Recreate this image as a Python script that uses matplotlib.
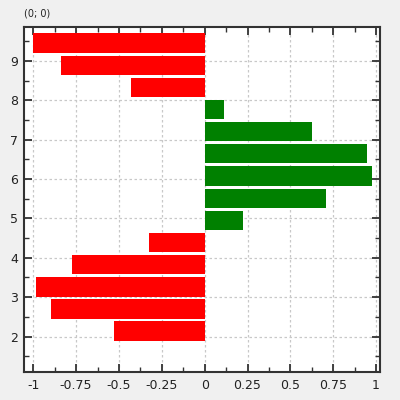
import matplotlib
matplotlib.use("Agg")
import matplotlib.pyplot as plt
from matplotlib.ticker import MultipleLocator, FuncFormatter

positions = [2.14, 2.70, 3.26, 3.83, 4.39, 4.95, 5.51, 6.08, 6.64, 7.20, 7.76, 8.33, 8.89, 9.45]
values = [-0.527, -0.894, -0.985, -0.776, -0.325, 0.226, 0.71, 0.976, 0.945, 0.626, 0.115, -0.427, -0.84, -1.0]
x_ticks = [-1, -0.75, -0.5, -0.25, 0, 0.25, 0.5, 0.75, 1]
y_ticks = [2, 3, 4, 5, 6, 7, 8, 9]
title = "(0; 0)"

fig = plt.figure(figsize=(4, 4), dpi=100, facecolor="#f0f0f0")
ax = fig.add_axes([0.06, 0.07, 0.89, 0.8625])
ax.set_facecolor("white")

colors = ["green" if v >= 0 else "red" for v in values]
ax.barh(positions, values, height=0.49, color=colors, edgecolor="none", zorder=3)

ax.set_xlim(-1.054, 1.023)
ax.set_ylim(1.10, 9.86)
ax.set_xticks(x_ticks)
ax.set_yticks(y_ticks)
ax.xaxis.set_major_formatter(FuncFormatter(lambda v, p: "%g" % v))
ax.xaxis.set_minor_locator(MultipleLocator(0.125))
ax.yaxis.set_minor_locator(MultipleLocator(0.5))

ax.tick_params(which="both", direction="in", top=True, right=True, color="#333333", labelsize=9, labelcolor="#222222")
ax.tick_params(which="major", length=6, width=1.3)
ax.tick_params(which="minor", length=3.5, width=1.0)
ax.tick_params(axis="x", pad=5)
ax.tick_params(axis="y", pad=4)

for s in ax.spines.values():
    s.set_color("#333333")
    s.set_linewidth(1.5)

ax.grid(True, which="major", color="#c8c8c8", linestyle=(0, (2, 2)), linewidth=0.9, zorder=0)
ax.set_axisbelow(True)

fig.text(0.06, 0.965, title, fontsize=7, ha="left", va="center", color="#222222")

fig.savefig("out.png", dpi=100, facecolor=fig.get_facecolor())
